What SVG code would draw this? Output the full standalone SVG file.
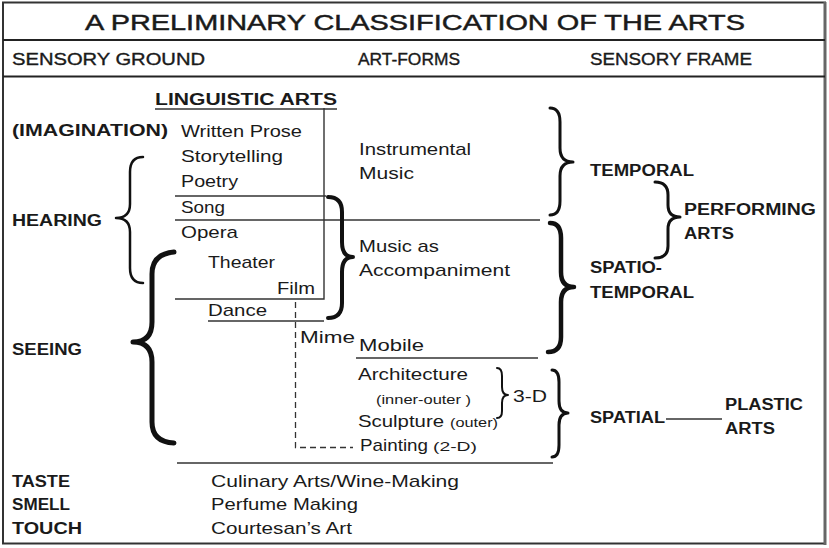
<svg xmlns="http://www.w3.org/2000/svg" width="829" height="548" viewBox="0 0 829 548">
<style>
text{font-family:"Liberation Sans",Arial,sans-serif;fill:#1a1a1a}
.t{font-size:17px}
.b{font-size:16px;font-weight:bold}
.h{font-size:16px;stroke:#1a1a1a;stroke-width:0.35}
.s{font-size:13px}
.ln{stroke:#333;stroke-width:1.4;fill:none}
.br{stroke:#111;fill:none;stroke-linecap:round;stroke-linejoin:round}
.dash{stroke:#333;stroke-width:1.3;fill:none;stroke-dasharray:6 4}
</style>
<rect x="0" y="0" width="829" height="548" fill="#fff"/>
<g id="frame">
<rect x="3" y="2.5" width="822" height="541" fill="none" stroke="#333" stroke-width="2"/>
<line x1="825" y1="2" x2="825" y2="545" stroke="#666" stroke-width="3"/>
<line x1="3" y1="40" x2="825" y2="40" stroke="#222" stroke-width="1.8"/>
<line x1="3" y1="76.5" x2="825" y2="76.5" stroke="#222" stroke-width="1.8"/>
<text x="415" y="30" font-size="22" text-anchor="middle" textLength="660" lengthAdjust="spacingAndGlyphs" stroke="#1a1a1a" stroke-width="0.45">A PRELIMINARY CLASSIFICATION OF THE ARTS</text>
<text class="h" x="12" y="65" textLength="193" lengthAdjust="spacingAndGlyphs">SENSORY GROUND</text>
<text class="h" x="358" y="65" textLength="102" lengthAdjust="spacingAndGlyphs">ART-FORMS</text>
<text class="h" x="590" y="65" textLength="162" lengthAdjust="spacingAndGlyphs">SENSORY FRAME</text>
</g>
<g id="sensory-ground">
<text class="b" x="12" y="136" textLength="156" lengthAdjust="spacingAndGlyphs">(IMAGINATION)</text>
<text class="b" x="12" y="226" textLength="90" lengthAdjust="spacingAndGlyphs">HEARING</text>
<text class="b" x="12" y="355" textLength="70" lengthAdjust="spacingAndGlyphs">SEEING</text>
<text class="b" x="12" y="487" textLength="58" lengthAdjust="spacingAndGlyphs">TASTE</text>
<text class="b" x="12" y="510" textLength="58" lengthAdjust="spacingAndGlyphs">SMELL</text>
<text class="b" x="12" y="534" textLength="70" lengthAdjust="spacingAndGlyphs">TOUCH</text>
</g>
<g id="linguistic-arts">
<text class="b" x="155" y="105" font-size="17" textLength="182" lengthAdjust="spacingAndGlyphs">LINGUISTIC ARTS</text>
<line class="ln" x1="155" y1="109" x2="337" y2="109"/>
<text class="t" x="181" y="137" textLength="121" lengthAdjust="spacingAndGlyphs">Written Prose</text>
<text class="t" x="181" y="162" textLength="102" lengthAdjust="spacingAndGlyphs">Storytelling</text>
<text class="t" x="181" y="187" textLength="57" lengthAdjust="spacingAndGlyphs">Poetry</text>
<text class="t" x="181" y="213" textLength="44" lengthAdjust="spacingAndGlyphs">Song</text>
<text class="t" x="181" y="238" textLength="57" lengthAdjust="spacingAndGlyphs">Opera</text>
<text class="t" x="208" y="268" textLength="67" lengthAdjust="spacingAndGlyphs">Theater</text>
<text class="t" x="277" y="294" textLength="38" lengthAdjust="spacingAndGlyphs">Film</text>
<text class="t" x="208" y="316" textLength="59" lengthAdjust="spacingAndGlyphs">Dance</text>
<text class="t" x="300" y="343" textLength="55" lengthAdjust="spacingAndGlyphs">Mime</text>
</g>
<g id="music">
<text class="t" x="359" y="155" textLength="112" lengthAdjust="spacingAndGlyphs">Instrumental</text>
<text class="t" x="359" y="179" textLength="55" lengthAdjust="spacingAndGlyphs">Music</text>
<text class="t" x="359" y="252" textLength="80" lengthAdjust="spacingAndGlyphs">Music as</text>
<text class="t" x="359" y="276" textLength="151" lengthAdjust="spacingAndGlyphs">Accompaniment</text>
</g>
<g id="plastic-forms">
<text class="t" x="359" y="351" textLength="65" lengthAdjust="spacingAndGlyphs">Mobile</text>
<text class="t" x="358" y="380" textLength="110" lengthAdjust="spacingAndGlyphs">Architecture</text>
<text class="s" x="376" y="404" textLength="95" lengthAdjust="spacingAndGlyphs">(inner-outer )</text>
<text class="t" x="358" y="427" textLength="86" lengthAdjust="spacingAndGlyphs">Sculpture</text>
<text class="s" x="450" y="427" textLength="48" lengthAdjust="spacingAndGlyphs">(outer)</text>
<text class="t" x="360" y="451" textLength="68" lengthAdjust="spacingAndGlyphs">Painting</text>
<text class="s" x="433" y="451" font-size="14" textLength="44" lengthAdjust="spacingAndGlyphs">(2-D)</text>
<text class="t" x="513" y="402" textLength="34" lengthAdjust="spacingAndGlyphs">3-D</text>
</g>
<g id="other-senses">
<text class="t" x="211" y="487" textLength="248" lengthAdjust="spacingAndGlyphs">Culinary Arts/Wine-Making</text>
<text class="t" x="211" y="510" textLength="147" lengthAdjust="spacingAndGlyphs">Perfume Making</text>
<text class="t" x="211" y="534" textLength="141" lengthAdjust="spacingAndGlyphs">Courtesan’s Art</text>
</g>
<g id="sensory-frame">
<text class="b" x="590" y="176" textLength="104" lengthAdjust="spacingAndGlyphs">TEMPORAL</text>
<text class="b" x="684" y="215" textLength="132" lengthAdjust="spacingAndGlyphs">PERFORMING</text>
<text class="b" x="684" y="239" textLength="50" lengthAdjust="spacingAndGlyphs">ARTS</text>
<text class="b" x="590" y="273" textLength="72" lengthAdjust="spacingAndGlyphs">SPATIO-</text>
<text class="b" x="590" y="298" textLength="104" lengthAdjust="spacingAndGlyphs">TEMPORAL</text>
<text class="b" x="590" y="423" textLength="75" lengthAdjust="spacingAndGlyphs">SPATIAL</text>
<text class="b" x="725" y="410" textLength="78" lengthAdjust="spacingAndGlyphs">PLASTIC</text>
<text class="b" x="725" y="434" textLength="50" lengthAdjust="spacingAndGlyphs">ARTS</text>
</g>
<g id="connectors">
<polyline class="ln" points="324,108 324,299 175,299"/>
<line class="ln" x1="175" y1="196" x2="326" y2="196"/>
<line class="ln" x1="175" y1="220" x2="540" y2="220"/>
<line class="ln" x1="208" y1="321" x2="324" y2="321"/>
<line class="ln" x1="356" y1="358" x2="538" y2="358"/>
<line class="ln" x1="177" y1="463" x2="553" y2="463"/>
<line class="ln" x1="666" y1="419" x2="722" y2="419"/>
<polyline class="dash" points="295.5,302 295.5,447.5 353,447.5"/>
<path class="br" stroke-width="2.5" d="M143,157 Q130,157 130,172 L130,204 Q130,218 116,218 Q130,218 130,232 L130,268 Q130,283 143,283"/>
<path class="br" stroke-width="5" d="M174,252 Q152,254 152,274 L152,322 Q152,342 133,342 Q152,342 152,362 L152,422 Q152,442 174,443"/>
<path class="br" stroke-width="4" d="M328,197 Q342,197 342,212 L342,242 Q342,257 353,257 Q342,257 342,272 L342,303 Q342,318 328,318"/>
<path class="br" stroke-width="3" d="M550,108 Q560,108 560,122 L560,148 Q560,162 573,162 Q560,162 560,176 L560,201 Q560,215 550,215"/>
<path class="br" stroke-width="4.5" d="M550,223 Q561,223 561,238 L561,272 Q561,287 574,287 Q561,287 561,302 L561,337 Q561,352 548,352"/>
<path class="br" stroke-width="3" d="M552,370 Q559,370 559,382 L559,401 Q559,413 568,413 Q559,413 559,425 L559,445 Q559,457 552,457"/>
<path class="br" stroke-width="2" d="M497,368 Q502,368 502,376 L502,387 Q502,395 508,395 Q502,395 502,403 L502,411 Q502,418 497,418"/>
<path class="br" stroke-width="3" d="M655,182 Q668,182 668,195 L668,205 Q668,217 680,217 Q668,217 668,229 L668,246 Q668,258 655,258"/>
</g>
</svg>
